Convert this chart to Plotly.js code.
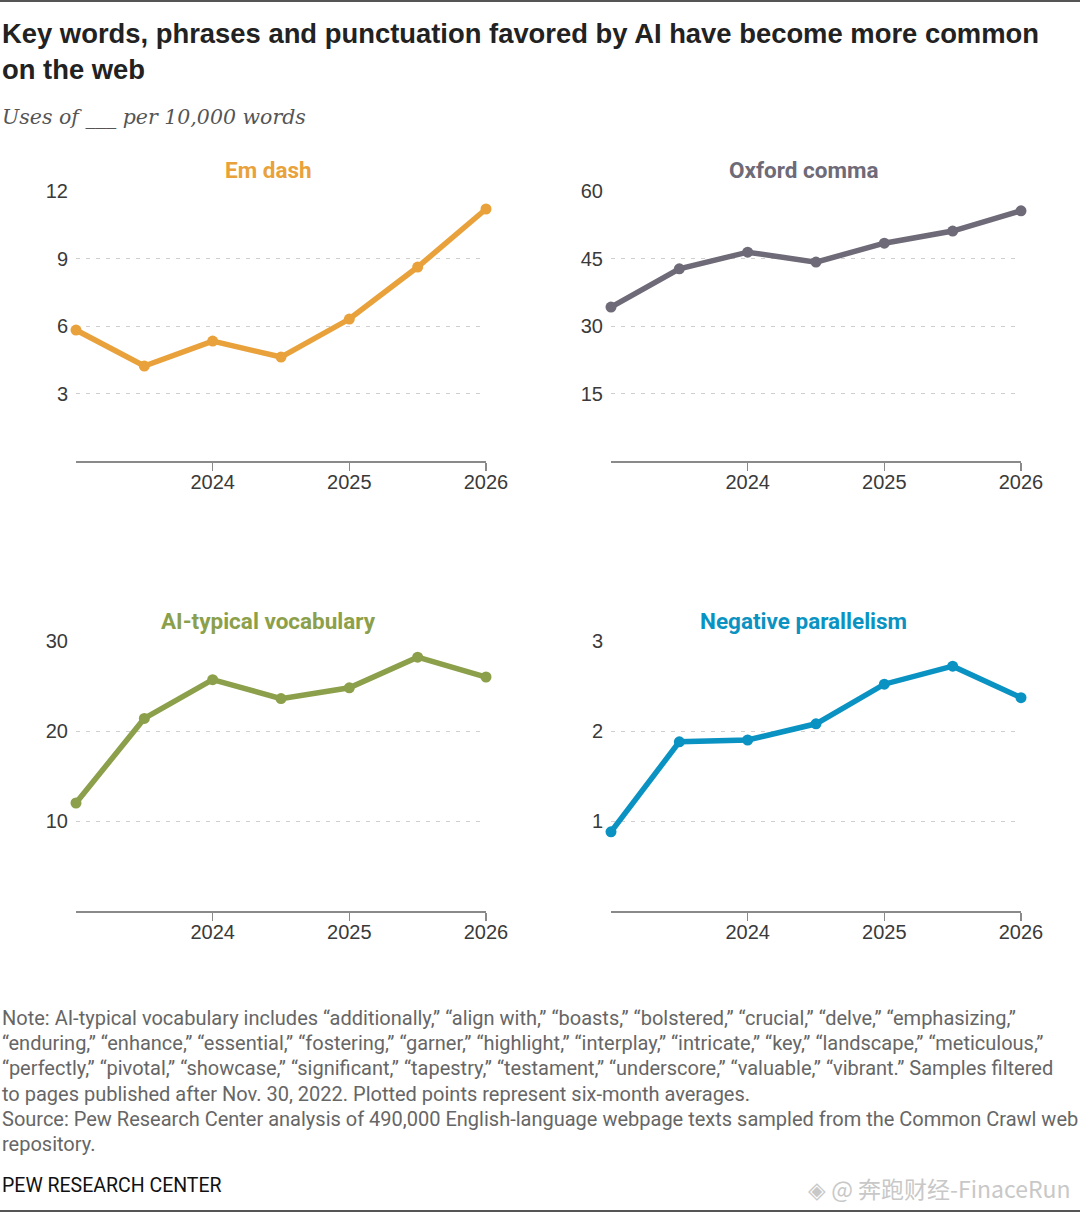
<!DOCTYPE html>
<html>
<head>
<meta charset="utf-8">
<script src="https://cdn.plot.ly/plotly-3.0.1.min.js"></script>
<style>html,body{margin:0;padding:0;background:#fff;}#chart{width:1080px;height:1213px;}</style>
</head>
<body>
<div id="chart"></div>
<script>
const periods = [2023.0, 2023.5, 2024.0, 2024.5, 2025.0, 2025.5, 2026.0];
const xTickVals = [2024, 2025, 2026];
const xTickText = ["2024", "2025", "2026"];

const emDash = [5.82, 4.22, 5.33, 4.62, 6.31, 8.62, 11.2];
const oxfordComma = [34.2, 42.7, 46.4, 44.2, 48.4, 51.1, 55.6];
const aiVocab = [12.0, 21.4, 25.7, 23.6, 24.8, 28.2, 26.0];
const negParallelism = [0.88, 1.88, 1.90, 2.08, 2.52, 2.72, 2.37];

const panelNames = ["Em dash", "Oxford comma", "AI-typical vocabulary", "Negative parallelism"];
const panelColors = ["#E9A23B", "#6E6A77", "#8C9F4A", "#0A93C2"];
const panelSeries = [emDash, oxfordComma, aiVocab, negParallelism];
const yTickVals = [[3, 6, 9, 12], [15, 30, 45, 60], [10, 20, 30], [1, 2, 3]];
const yMax = [12, 60, 30, 3];

const noteLines = [
  "Note: AI-typical vocabulary includes “additionally,” “align with,” “boasts,” “bolstered,” “crucial,” “delve,” “emphasizing,”",
  "“enduring,” “enhance,” “essential,” “fostering,” “garner,” “highlight,” “interplay,” “intricate,” “key,” “landscape,” “meticulous,”",
  "“perfectly,” “pivotal,” “showcase,” “significant,” “tapestry,” “testament,” “underscore,” “valuable,” “vibrant.” Samples filtered",
  "to pages published after Nov. 30, 2022. Plotted points represent six-month averages.",
  "Source: Pew Research Center analysis of 490,000 English-language webpage texts sampled from the Common Crawl web",
  "repository."
];

const W = 1080, H = 1213;
const xDomLeft = [76 / W, 486 / W];
const xDomRight = [611 / W, 1021 / W];
const yDomTop = [1 - 461 / H, 1 - 191 / H];
const yDomBot = [1 - 911 / H, 1 - 641 / H];

const bodyFont = "'Roboto', 'Liberation Sans', sans-serif";
const tickFont = {family: "'Liberation Sans', 'Roboto', sans-serif", size: 20, color: "#3a3a3a"};

const traces = [];
const layout = {
  width: W, height: H,
  margin: {l: 0, r: 0, t: 0, b: 0},
  paper_bgcolor: "#fff", plot_bgcolor: "#fff",
  showlegend: false,
  annotations: [], shapes: []
};

for (let i = 0; i < 4; i++) {
  const n = i + 1;
  const xa = "x" + (n === 1 ? "" : n), ya = "y" + (n === 1 ? "" : n);
  traces.push({
    x: periods, y: panelSeries[i], xaxis: xa, yaxis: ya,
    type: "scatter", mode: "lines+markers",
    line: {color: panelColors[i], width: 5.5},
    marker: {color: panelColors[i], size: 11},
    cliponaxis: false, hoverinfo: "skip"
  });
  const xd = (i % 2 === 0) ? xDomLeft : xDomRight;
  const yd = (i < 2) ? yDomTop : yDomBot;
  layout["xaxis" + (n === 1 ? "" : n)] = {
    domain: xd, range: [2023, 2026], anchor: ya,
    tickvals: xTickVals, ticktext: xTickText,
    showgrid: false, zeroline: false,
    showline: true, linecolor: "#8a8a8a", linewidth: 1.5,
    ticks: "outside", ticklen: 8, tickwidth: 1.5, tickcolor: "#8a8a8a",
    ticklabelstandoff: -6,
    tickfont: tickFont, fixedrange: true
  };
  layout["yaxis" + (n === 1 ? "" : n)] = {
    domain: yd, range: [0, yMax[i]], anchor: xa,
    tickvals: yTickVals[i],
    showgrid: true, gridcolor: "#cfcfcf", griddash: "4px,6px", gridwidth: 1,
    zeroline: false, showline: false, ticks: "",
    ticklabelstandoff: 7,
    tickfont: tickFont, fixedrange: true
  };
  const cx = (i % 2 === 0) ? 268 : 803;
  const cy = (i < 2) ? 170 : 621;
  layout.annotations.push({
    xref: "paper", yref: "paper", x: cx / W, y: 1 - cy / H,
    xanchor: "center", yanchor: "middle", showarrow: false,
    text: "<b>" + panelNames[i] + "</b>",
    font: {family: bodyFont, size: 22.5, color: panelColors[i]}
  });
}

// Titles and notes
layout.annotations.push({
  xref: "paper", yref: "paper", x: 0, y: 1 - 16 / H, xanchor: "left", yanchor: "top",
  showarrow: false, align: "left",
  text: "<b>Key words, phrases and punctuation favored by AI have become more common<br>on the web</b>",
  font: {family: "'Liberation Sans', 'Roboto', sans-serif", size: 27.4, color: "#222"}
});
layout.annotations.push({
  xref: "paper", yref: "paper", x: 0, y: 1 - 117 / H, xanchor: "left", yanchor: "middle",
  showarrow: false, align: "left",
  text: "<i>Uses of ___ per 10,000 words</i>",
  font: {family: "'DejaVu Serif', 'Liberation Serif', serif", size: 20.5, color: "#555"}
});
noteLines.forEach(function (line, k) {
  layout.annotations.push({
    xref: "paper", yref: "paper", x: 0, y: 1 - (1018 + 25.2 * k) / H, xanchor: "left", yanchor: "middle",
    showarrow: false, align: "left",
    text: line,
    font: {family: bodyFont, size: 20, color: "#666"}
  });
});
layout.annotations.push({
  xref: "paper", yref: "paper", x: 0, y: 1 - 1185 / H, xanchor: "left", yanchor: "middle",
  showarrow: false, align: "left",
  text: "PEW RESEARCH CENTER",
  font: {family: bodyFont, size: 19.5, color: "#111"}
});
layout.annotations.push({
  xref: "paper", yref: "paper", x: 1073 / W, y: 1 - 1188 / H, xanchor: "right", yanchor: "middle",
  showarrow: false, align: "right",
  text: "◈ @ 奔跑财经-FinaceRun",
  font: {family: "'Noto Sans CJK SC', 'Noto Sans', sans-serif", size: 23, color: "#c8c8c8"}
});
layout.shapes.push({type: "line", xref: "paper", yref: "paper", x0: 0, x1: 1, y0: 1 - 1 / H, y1: 1 - 1 / H, line: {color: "#555", width: 2}});
layout.shapes.push({type: "line", xref: "paper", yref: "paper", x0: 0, x1: 1, y0: 1 - 1211 / H, y1: 1 - 1211 / H, line: {color: "#555", width: 2}});

Plotly.newPlot("chart", traces, layout, {displayModeBar: false, staticPlot: true});
</script>
</body>
</html>
